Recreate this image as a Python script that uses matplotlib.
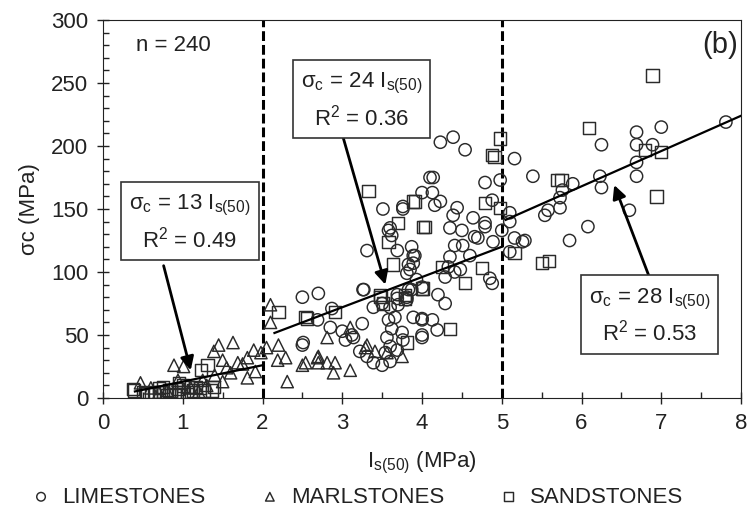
import matplotlib
matplotlib.use("Agg")
from matplotlib import pyplot as plt
from matplotlib.ticker import MultipleLocator

plt.rcParams['font.family'] = ['Liberation Sans', 'DejaVu Sans']
plt.rcParams['mathtext.default'] = 'regular'

# LIMESTONES (circles)
lime_x = [2.5, 2.7, 3.27, 2.69, 2.85, 3.0, 3.12, 3.25, 2.5, 3.04, 3.14, 2.87, 3.39, 3.5, 3.6, 3.69,
          3.69, 3.81, 3.7, 3.58, 3.66, 3.89, 4.0, 4.0, 3.56, 3.75, 3.76, 3.6, 3.22, 3.31, 3.39, 3.5,
          3.6, 3.69, 3.54, 3.62, 3.81, 3.83, 3.87, 3.93, 3.81, 3.83, 3.85, 3.89, 3.91, 3.89, 3.87,
          3.69, 3.31, 3.62, 3.58, 3.6, 3.51, 3.76, 3.76, 4.0, 4.1, 3.26, 2.51,
          4.23, 4.39, 4.54, 5.16, 4.79, 4.98, 4.14, 4.13, 4.16, 4.23, 4.88, 4.44, 4.39, 4.64, 4.79,
          4.79, 5.1, 5.1, 5.0, 5.16, 5.26, 4.35, 4.5, 4.7, 4.89, 4.41, 4.51, 4.35, 4.6, 5.1, 4.33,
          4.41, 4.48, 4.29, 4.88, 4.85, 4.2, 4.29, 4.0, 4.13, 4.19, 4.0, 4.0, 4.66, 5.29,
          5.39, 5.89, 5.76, 5.73, 5.58, 5.54, 5.73, 5.85, 6.08, 6.25, 6.23, 6.25, 6.6, 6.69, 6.69,
          6.89, 6.69, 6.69, 7.0, 7.81]
lime_y = [80, 83, 86, 62, 56, 53, 50, 59, 42, 46, 48, 71, 72, 75, 72, 79,
          82, 78, 74, 62, 64, 64, 62, 50, 48, 52, 46, 41, 37, 33, 28, 26,
          29, 38, 36, 55, 80, 86, 86, 94, 99, 106, 102, 107, 113, 113, 120,
          117, 117, 129, 133, 135, 150, 150, 152, 163, 175, 86, 44,
          203, 207, 197, 190, 171, 173, 175, 163, 153, 156, 157, 151, 145, 143, 136,
          139, 147, 140, 133, 127, 124, 135, 133, 127, 124, 121, 121, 112, 113, 116, 104,
          100, 102, 96, 91, 95, 82, 75, 63, 62, 54, 48, 88, 128, 125,
          176, 170, 165, 159, 149, 145, 151, 125, 136, 201, 176, 167, 149, 211, 201,
          201, 187, 176, 215, 219]

# MARLSTONES (triangles)
marl_x = [0.47, 0.89, 1.01, 1.45, 1.63, 1.39, 1.89, 1.5, 1.75, 1.81, 1.6, 1.81, 1.5, 0.94, 1.69,
          1.91, 1.98, 1.3, 1.1, 0.8, 0.7, 1.2, 0.6, 1.4, 1.55, 1.25,
          2.1, 2.1, 2.2, 2.19, 2.29, 2.31, 2.5, 2.69, 2.81, 2.91, 2.89, 3.1, 2.81, 3.1, 3.29, 3.41,
          3.75, 2.54, 2.7, 2.7, 3.31, 3.56, 2.05]
marl_y = [12, 26, 25, 42, 44, 37, 38, 30, 27, 32, 20, 16, 13, 14, 28,
          21, 36, 10, 8, 6, 4, 5, 8, 18, 24, 14,
          74, 60, 42, 30, 32, 13, 26, 32, 28, 28, 20, 22, 48, 56, 40, 37,
          33, 28, 33, 28, 42, 36, 40]

# SANDSTONES (squares)
sand_x = [0.38, 0.5, 0.64, 0.75, 0.83, 0.94, 1.01, 1.13, 1.07, 0.75, 1.16, 1.26, 1.37, 1.31, 1.23,
          0.39, 0.72, 0.85, 1.1, 1.22, 1.39, 0.6, 0.8, 0.9, 0.7, 1.0, 0.55, 0.95, 1.05,
          2.2, 2.56, 2.91, 3.48, 3.51, 3.79, 4.0, 3.64, 3.81, 3.33, 3.91, 4.01, 3.7, 3.58, 3.47,
          3.79, 2.54, 3.89,
          4.98, 4.88, 4.91, 4.79, 4.98, 4.04, 5.16, 4.25, 4.75, 4.54, 4.35, 4.01, 5.5, 5.59, 5.7,
          6.89, 6.09, 6.8, 7.0, 6.94, 5.75]
sand_y = [7, 5, 5, 5, 6, 7, 5, 6, 9, 9, 9, 6, 6, 26, 22,
          6, 5, 6, 5, 8, 9, 3, 2, 3, 8, 10, 4, 12, 3,
          68, 63, 68, 80, 75, 79, 87, 106, 44, 164, 156, 136, 139, 124, 82,
          82, 64, 156,
          206, 193, 191, 155, 151, 136, 115, 104, 103, 91, 55, 87, 107, 109, 173,
          256, 214, 197, 195, 160, 173]

# regression segments: slope, x range
fit_slopes = [13, 24, 28]
fit_ranges = [(0.4, 2.0), (2.15, 5.0), (5.05, 8.0)]
fit_labels = ['σ$_c$ = 13 I$_{s(50)}$\nR$^2$ = 0.49',
              'σ$_c$ = 24 I$_{s(50)}$\nR$^2$ = 0.36',
              'σ$_c$ = 28 I$_{s(50)}$\nR$^2$ = 0.53']
box_pos = [(1.09, 139), (3.24, 236), (6.85, 65)]
arrow_start = [(0.76, 105), (3.01, 207), (6.85, 96)]
arrow_tip = [(1.1, 22), (3.54, 90), (6.41, 169)]

fs = 16
tc = '#222222'

fig = plt.figure(figsize=(7.48, 5.13), dpi=100)
ax = fig.add_axes([0.1377, 0.2242, 0.853, 0.7368])

mk = dict(s=78, facecolors='none', edgecolors='#2a2a2a', linewidths=1.05, zorder=3)
ax.scatter(lime_x, lime_y, marker='o', label='LIMESTONES', **mk)
ax.scatter(marl_x, marl_y, marker='^', label='MARLSTONES', **mk)
ax.scatter(sand_x, sand_y, marker='s', label='SANDSTONES', **mk)

for s, (x0, x1) in zip(fit_slopes, fit_ranges):
    ax.plot([x0, x1], [s * x0, s * x1], color='black', lw=1.6, zorder=4)

for xv in [2, 5]:
    ax.axvline(xv, color='black', lw=2.2, linestyle=(0, (3.2, 1.3)), zorder=2)

for lab, pos, st, tip in zip(fit_labels, box_pos, arrow_start, arrow_tip):
    ax.annotate('', xy=tip, xytext=st,
                arrowprops=dict(arrowstyle='-|>', color='black', lw=2, mutation_scale=20,
                                shrinkA=0, shrinkB=0), zorder=5)
    ax.text(pos[0], pos[1], lab, ha='center', va='center', fontsize=fs, linespacing=1.4,
            color=tc, zorder=6,
            bbox=dict(boxstyle='square,pad=0.35', facecolor='white', edgecolor='#333333', lw=1.2))

ax.text(0.41, 280, 'n = 240', fontsize=fs, va='center', color=tc)
ax.text(7.96, 280, '(b)', fontsize=21, va='center', ha='right', color=tc)

ax.set_xlim(0, 8)
ax.set_ylim(0, 300)
ax.xaxis.set_major_locator(MultipleLocator(1))
ax.xaxis.set_minor_locator(MultipleLocator(0.5))
ax.yaxis.set_major_locator(MultipleLocator(50))
ax.yaxis.set_minor_locator(MultipleLocator(10))
ax.tick_params(which='major', direction='inout', length=9, width=1, labelsize=fs,
               colors=tc, pad=6)
ax.tick_params(which='minor', direction='in', length=4, width=1, colors=tc)
for sp in ax.spines.values():
    sp.set_color(tc)
ax.set_xlabel('I$_{s(50)}$ (MPa)', fontsize=fs, color=tc, labelpad=12)
ax.set_ylabel('σc (MPa)', fontsize=fs, color=tc, labelpad=8)

fig.legend(loc='center left', bbox_to_anchor=(0.040, 0.031), ncol=3, frameon=False,
           fontsize=fs, markerscale=0.7, handlelength=1.0, handletextpad=0.45,
           columnspacing=2.4, borderpad=0, borderaxespad=0, labelcolor=tc)

fig.savefig('out.png', dpi=100)
